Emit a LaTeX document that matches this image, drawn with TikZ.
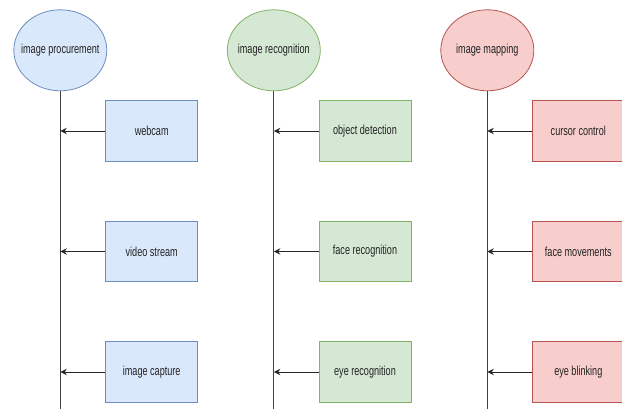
\documentclass[tikz,border=0pt]{standalone}
\usepackage{fontspec}
\setmainfont{Liberation Sans}
\newfontfamily\narrowsans[FakeStretch=0.70]{Liberation Sans}
\usetikzlibrary{arrows.meta,shapes.geometric}
\definecolor{bluefill}{HTML}{DAE8FC}
\definecolor{bluedraw}{HTML}{6C8EBF}
\definecolor{greenfill}{HTML}{D5E8D4}
\definecolor{greendraw}{HTML}{82B366}
\definecolor{redfill}{HTML}{F8CECC}
\definecolor{reddraw}{HTML}{B85450}
\definecolor{txt}{HTML}{222222}
\begin{document}
\begin{tikzpicture}[x=1pt,y=-1pt,
  lbl/.style={font=\narrowsans\fontsize{13}{15}\selectfont, text=txt},
  phase/.style={ellipse, draw, minimum width=93pt, minimum height=81pt, inner xsep=-8pt, inner ysep=0pt, lbl, line width=0.8pt},
  task/.style={rectangle, draw, minimum width=92pt, minimum height=60.5pt, inner sep=0pt, lbl, line width=0.8pt},
  spine/.style={draw=black!75, line width=0.9pt},
  feed/.style={draw=black!85, line width=0.9pt, -{Stealth[length=6.5pt,width=6.5pt]}},
  blue/.style={fill=bluefill, draw=bluedraw},
  green/.style={fill=greenfill, draw=greendraw},
  red/.style={fill=redfill, draw=reddraw}]
\useasboundingbox (0,0) rectangle (622,409);
\fill[white] (0,0) rectangle (622,409);

% phases
\node[phase, blue]  (p1) at (60.3,50.3)  {image procurement};
\node[phase, green] (p2) at (273.8,50.3) {image recognition};
\node[phase, red]   (p3) at (487.3,50.3) {image mapping};

% spine ends
\coordinate (b1) at (60.3,410);
\coordinate (b2) at (273.8,410);
\coordinate (b3) at (487.3,410);
\draw[spine] (p1.south) -- (b1);
\draw[spine] (p2.south) -- (b2);
\draw[spine] (p3.south) -- (b3);

% tasks
\node[task, blue]  (a1) at (151.7,131)   {webcam};
\node[task, blue]  (a2) at (151.7,251.5) {video stream};
\node[task, blue]  (a3) at (151.7,372)   {image capture};
\node[task, green] (r1) at (365,131)     {object detection};
\node[task, green] (r2) at (365,251.5)   {face recognition};
\node[task, green] (r3) at (365,372)     {eye recognition};
\node[task, red]   (m1) at (578.3,131)   {cursor control};
\node[task, red]   (m2) at (578.3,251.5) {face movements};
\node[task, red]   (m3) at (578.3,372)   {eye blinking};

% connectors
\foreach \n in {a1,a2,a3} \draw[feed] (\n.west) -- (\n.west -| b1);
\foreach \n in {r1,r2,r3} \draw[feed] (\n.west) -- (\n.west -| b2);
\foreach \n in {m1,m2,m3} \draw[feed] (\n.west) -- (\n.west -| b3);
\end{tikzpicture}
\end{document}
